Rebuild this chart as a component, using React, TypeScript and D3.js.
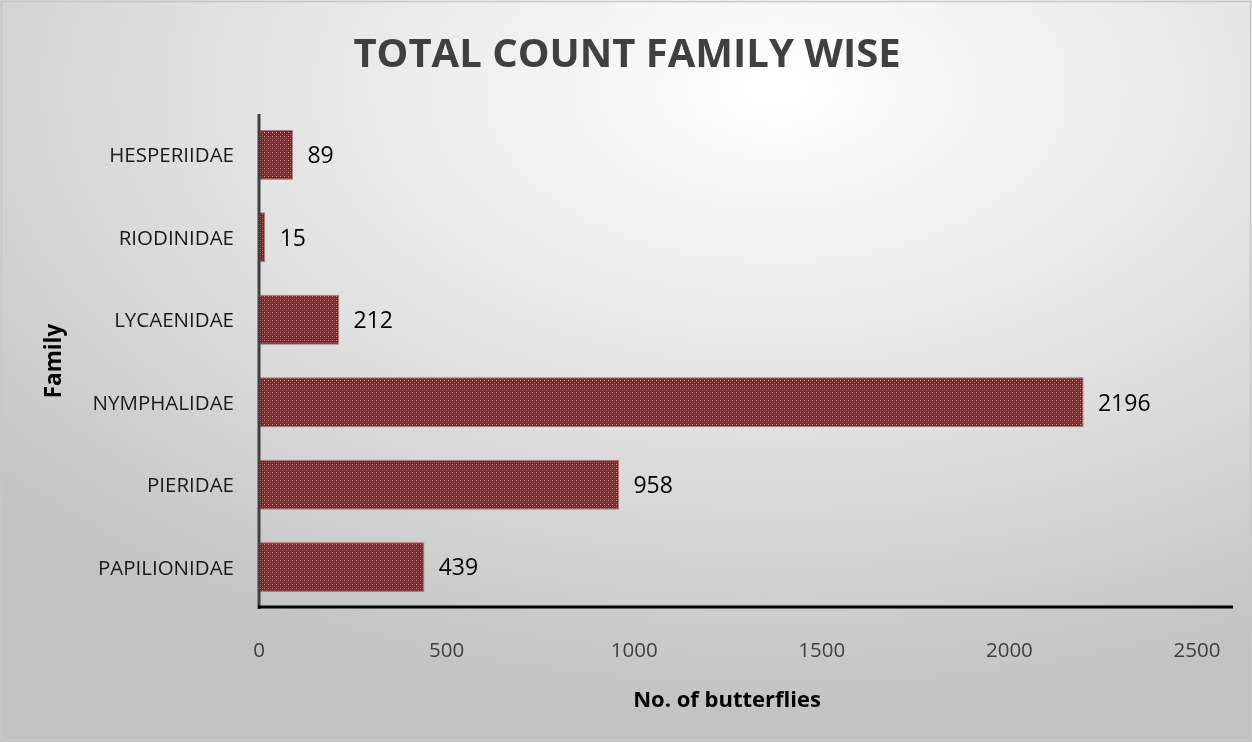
import React from "react";
import * as d3 from "d3";

const families = ["PAPILIONIDAE", "PIERIDAE", "NYMPHALIDAE", "LYCAENIDAE", "RIODINIDAE", "HESPERIIDAE"];
const counts = [439, 958, 2196, 212, 15, 89];
const xTicks = [0, 500, 1000, 1500, 2000, 2500];

const W = 1252;
const H = 742;
const FONT = "Open Sans, Lato, sans-serif";

export default function App() {
  const x = d3.scaleLinear().domain([0, 2500]).range([259, 1197]);
  const y = d3
    .scaleBand<string>()
    .domain([...families].reverse())
    .range([114, 608])
    .paddingInner(0.41)
    .paddingOuter(0.2);

  return (
    <div style={{ position: "fixed", left: 0, top: 0 }}>
      <svg width={W} height={H} style={{ display: "block" }}>
        <defs>
          <radialGradient id="bg" cx="0.62" cy="0.12" r="0.85" gradientUnits="objectBoundingBox">
            <stop offset="0" stopColor="#ffffff" />
            <stop offset="0.45" stopColor="#e6e6e6" />
            <stop offset="1" stopColor="#c2c2c2" />
          </radialGradient>
          <pattern id="weave" width="4" height="4" patternUnits="userSpaceOnUse">
            <rect width="4" height="4" fill="#742628" />
            <rect x="0" y="0" width="1" height="1" fill="#c99798" />
            <rect x="2" y="2" width="1" height="1" fill="#ad6e6f" />
            <rect x="2" y="0" width="1" height="1" fill="#8e4748" />
            <rect x="0" y="2" width="1" height="1" fill="#8e4748" />
          </pattern>
        </defs>
        <rect x={0} y={0} width={W} height={H} fill="url(#bg)" />
        <rect x={1.5} y={1.5} width={W - 3} height={H - 3} fill="none" stroke="#c8c8c8" strokeWidth={1.5} />

        <text
          x={627}
          y={67}
          textAnchor="middle"
          fontFamily={FONT}
          fontWeight={700}
          fontSize={40}
          fill="#404040"
        >
          TOTAL COUNT FAMILY WISE
        </text>

        {families.map((f, i) => {
          const by = y(f)!;
          const bh = y.bandwidth();
          return (
            <g key={f}>
              <rect
                x={x(0)}
                y={by}
                width={x(counts[i]) - x(0)}
                height={bh}
                fill="url(#weave)"
                stroke="#b07a7b"
                strokeWidth={1}
              />
              <text
                x={x(counts[i]) + 15}
                y={by + bh / 2}
                dy="0.36em"
                fontFamily={FONT}
                fontSize={23}
                fill="#000"
              >
                {counts[i]}
              </text>
              <text
                x={234}
                y={by + bh / 2}
                dy="0.36em"
                textAnchor="end"
                fontFamily={FONT}
                fontSize={20.5}
                fill="#1a1a1a"
              >
                {f}
              </text>
            </g>
          );
        })}

        <line x1={259} x2={259} y1={114} y2={609} stroke="#404040" strokeWidth={3} />
        <line x1={258} x2={1233} y1={607} y2={607} stroke="#000" strokeWidth={3} />

        {xTicks.map((t) => (
          <text
            key={t}
            x={x(t)}
            y={657}
            textAnchor="middle"
            fontFamily={FONT}
            fontSize={20.5}
            fill="#404040"
          >
            {t}
          </text>
        ))}

        <text
          x={727}
          y={707}
          textAnchor="middle"
          fontFamily={FONT}
          fontWeight={700}
          fontSize={22}
          fill="#000"
        >
          No. of butterflies
        </text>
        <text
          transform={`translate(61, 361) rotate(-90)`}
          textAnchor="middle"
          fontFamily={FONT}
          fontWeight={700}
          fontSize={22.5}
          fill="#000"
        >
          Family
        </text>
      </svg>
    </div>
  );
}
